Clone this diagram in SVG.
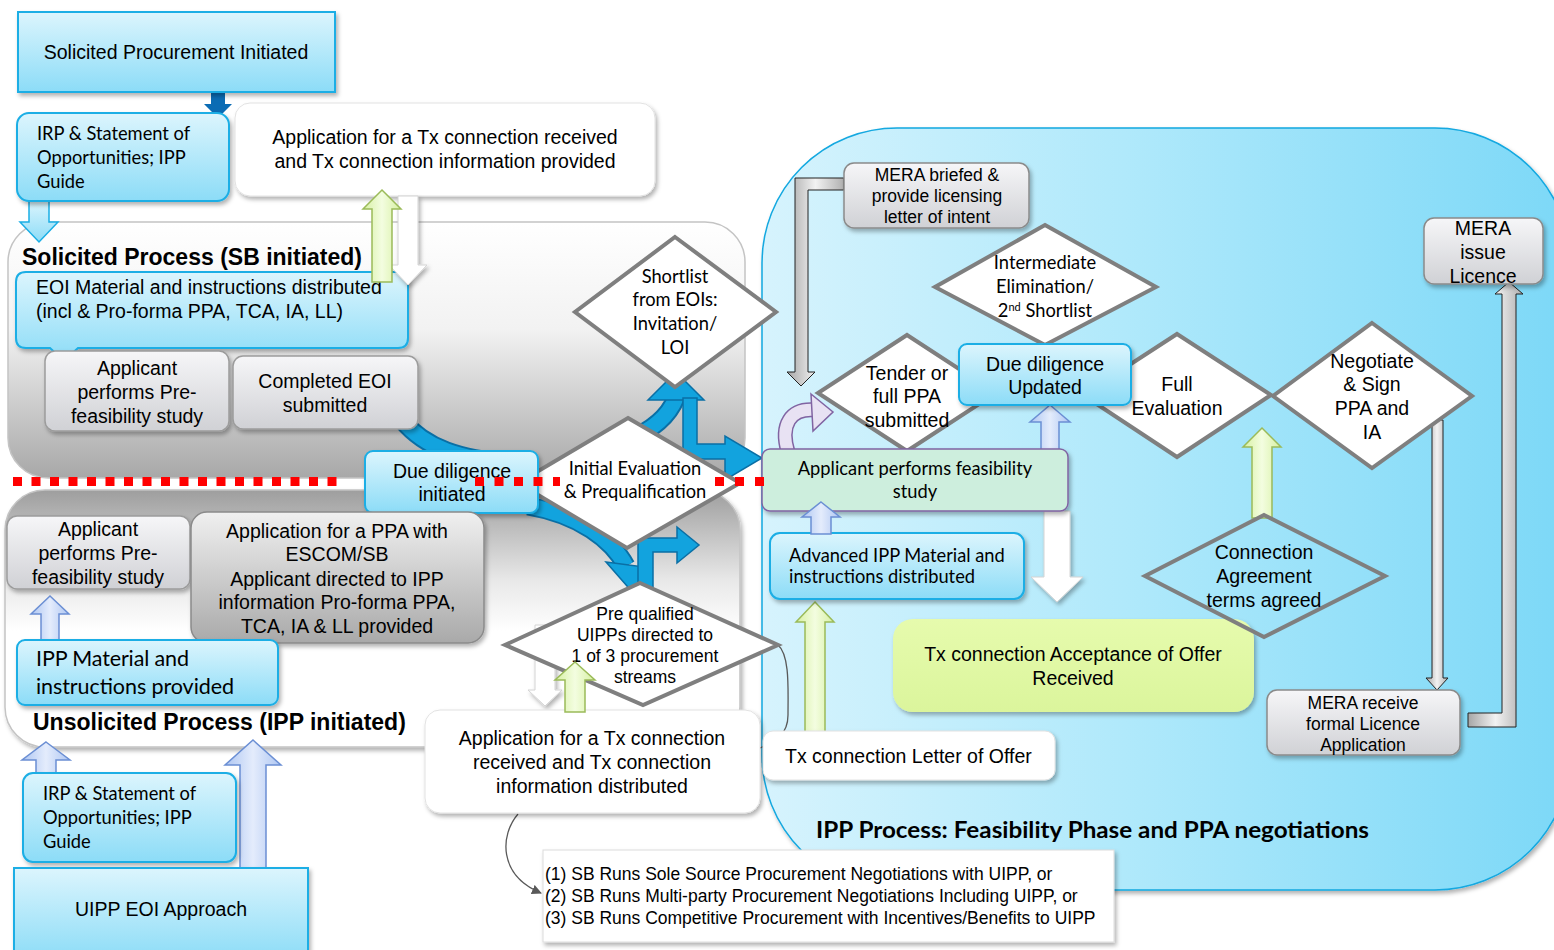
<svg xmlns="http://www.w3.org/2000/svg" width="1554" height="950" viewBox="0 0 1554 950">
<defs>
<linearGradient id="gBlue" x1="0" y1="0" x2="0" y2="1"><stop offset="0" stop-color="#dcf5fd"/><stop offset="1" stop-color="#8cdcf7"/></linearGradient>
<linearGradient id="gGray" x1="0" y1="0" x2="0" y2="1"><stop offset="0" stop-color="#f6f6f8"/><stop offset="1" stop-color="#d0d1d5"/></linearGradient>
<linearGradient id="gGrayD" x1="0" y1="0" x2="0" y2="1"><stop offset="0" stop-color="#f0f0f0"/><stop offset="1" stop-color="#a9a9a9"/></linearGradient>
<linearGradient id="gIPP" x1="0" y1="0" x2="1" y2="0"><stop offset="0" stop-color="#d6f3fd"/><stop offset="0.45" stop-color="#b0e9fb"/><stop offset="1" stop-color="#7cd8f7"/></linearGradient>
<linearGradient id="gSol" x1="0" y1="0" x2="0" y2="1"><stop offset="0" stop-color="#ffffff"/><stop offset="0.42" stop-color="#f2f2f2"/><stop offset="1" stop-color="#a8a8a8"/></linearGradient>
<linearGradient id="gUns" x1="0" y1="0" x2="0" y2="1"><stop offset="0" stop-color="#9e9e9e"/><stop offset="0.35" stop-color="#e8e8e8"/><stop offset="0.55" stop-color="#ffffff"/><stop offset="1" stop-color="#ffffff"/></linearGradient>
<linearGradient id="gGreen" x1="0" y1="0" x2="1" y2="0"><stop offset="0" stop-color="#d6f0a2"/><stop offset="0.5" stop-color="#f3fde0"/><stop offset="1" stop-color="#d6f0a2"/></linearGradient>
<linearGradient id="gPeri" x1="0" y1="0" x2="1" y2="0"><stop offset="0" stop-color="#aec6f2"/><stop offset="0.5" stop-color="#e4ecfc"/><stop offset="1" stop-color="#aec6f2"/></linearGradient>
<linearGradient id="gSteel" x1="0" y1="0" x2="1" y2="0"><stop offset="0" stop-color="#a6a6a6"/><stop offset="0.5" stop-color="#f2f2f2"/><stop offset="1" stop-color="#b0b0b0"/></linearGradient>
<linearGradient id="gLime" x1="0" y1="0" x2="0" y2="1"><stop offset="0" stop-color="#e6fbad"/><stop offset="1" stop-color="#dbf59c"/></linearGradient>
<filter id="sh" x="-10%" y="-10%" width="130%" height="140%"><feDropShadow dx="2" dy="3" stdDeviation="2" flood-color="#000" flood-opacity="0.3"/></filter>
<marker id="ah" markerWidth="10" markerHeight="10" refX="9" refY="5" orient="auto" markerUnits="userSpaceOnUse"><path d="M0,0 L10,5 L0,10 Z" fill="#595959"/></marker>
<style>
.bb{fill:url(#gBlue);stroke:#1aaee5;stroke-width:2}
.bg{fill:url(#gGray);stroke:#9c9c9c;stroke-width:1.5}
.bgd{fill:url(#gGrayD);stroke:#8a8a8a;stroke-width:1.5}
.bw{fill:#fff;stroke:#e2e2e2;stroke-width:1}
.dia{fill:#fff;stroke:#7f7f7f;stroke-width:4}
.a{font-family:"Liberation Sans",Arial,sans-serif;font-size:19.5px;fill:#000}
.s{font-size:17.5px}
.m{text-anchor:middle}
.c{font-family:Lato,"Open Sans",sans-serif;font-size:18.3px;fill:#000}
.cb{font-size:21.5px}
.ti{font-family:"Liberation Sans",Arial,sans-serif;font-size:23px;font-weight:bold;fill:#000}
.ag{fill:url(#gGreen);stroke:#9bbb59;stroke-width:1.5}
.ap{fill:url(#gPeri);stroke:#6b8fd4;stroke-width:1.5}
.aw{fill:#fff;stroke:#d4d4d4;stroke-width:1}
.as{fill:url(#gSteel);stroke:#222;stroke-width:1}
.al{fill:url(#gBlue);stroke:#1aaee5;stroke-width:1.5}
.bo{fill:none;stroke:#0a6fa5;stroke-width:19}
.bi{fill:none;stroke:#12a3de;stroke-width:15}
.bh{fill:#12a3de;stroke:#0a6fa5;stroke-width:1.5}
.thin{fill:none;stroke:#595959;stroke-width:1.3}
.red{stroke:#ff0000;stroke-width:9;fill:none}
</style>
</defs>

<g id="regions">
<rect x="762" y="128" width="808" height="762" rx="135" fill="url(#gIPP)" stroke="#12a8e0" stroke-width="1.5" filter="url(#sh)"/>
<rect x="8" y="222" width="737" height="256" rx="40" fill="url(#gSol)" stroke="#c4c4c4" stroke-width="1.5"/>
<rect x="5" y="490" width="735" height="257" rx="40" fill="url(#gUns)" stroke="#c4c4c4" stroke-width="1.5" filter="url(#sh)"/>
<text class="ti" x="22" y="265">Solicited Process (SB initiated)</text>
<text class="ti" x="33" y="730">Unsolicited Process (IPP initiated)</text>
<text x="816" y="838" font-family="Lato,'Open Sans',sans-serif" font-weight="bold" font-size="22" textLength="553" lengthAdjust="spacingAndGlyphs">IPP Process: Feasibility Phase and PPA negotiations</text>
</g>

<g id="connectors">
<polygon class="al" points="29,201 49,201 49,222 58,222 39,242 20,222 29,222"/>
<path class="bo" d="M402,420 C425,448 460,460 515,463"/>
<path class="bi" d="M402,420 C425,448 460,460 515,463"/>
<path class="bo" d="M528,506 C580,515 612,540 626,566"/>
<path class="bi" d="M528,506 C580,515 612,540 626,566"/>
<polygon class="bh" points="606,562 652,568 634,594"/>
<path class="bo" d="M628,440 Q665,425 676,398"/>
<path class="bi" d="M628,440 Q665,425 676,398"/>
<polygon class="bh" points="648,400 704,400 676,372"/>
<polygon class="bh" points="683,398 697,398 697,444 725,444 725,436 762,458 725,480 725,459 683,459"/>
<polygon class="bh" points="638,588 638,538 677,538 677,527 699,545 677,563 677,552 653,552 653,588"/>
<polygon class="ap" points="50,596 69,614 59,614 59,640 41,640 41,614 31,614"/>
<polygon class="ap" points="46,742 70,760 56,760 56,775 36,775 36,760 22,760"/>
<polygon class="ap" points="253,740 281,765 266,765 266,870 240,870 240,765 225,765"/>
<polygon class="aw" filter="url(#sh)" points="535,625 555,625 555,690 562,690 545,706 528,690 535,690"/>
<polygon class="ap" points="1050,405 1070,422 1059,422 1059,450 1041,450 1041,422 1030,422"/>
<polygon class="ag" points="815,602 834,622 825,622 825,733 805,733 805,622 796,622"/>
<polygon class="ag" points="1262,428 1281,447 1272,447 1272,518 1252,518 1252,447 1243,447"/>
<polygon class="aw" filter="url(#sh)" points="1044,511 1070,511 1070,577 1083,577 1057,602 1031,577 1044,577"/>
<polygon class="as" points="1509,282 1523,294 1516,294 1516,727 1468,727 1468,713 1502,713 1502,294 1495,294"/>
<polygon class="as" points="1432,420 1443,420 1443,678 1448,678 1437,690 1426,678 1432,678"/>
<polygon class="as" points="844,178 795,178 795,372 787,372 801,386 815,372 808,372 808,190 844,190"/>
<polygon points="211,92 225,92 225,104 232,104 218,118 204,104 211,104" fill="#0b6cb4"/>
<path d="M788,452 C780,425 790,408 815,410" fill="none" stroke="#8064a2" stroke-width="15"/>
<path d="M788,452 C780,425 790,408 815,410" fill="none" stroke="#e8e2f3" stroke-width="12"/>
<polygon points="811,394 833,412 813,431" fill="#e8e2f3" stroke="#8064a2" stroke-width="1.5"/>
<path class="thin" d="M518,814 C500,835 498,875 541,893" marker-end="url(#ah)"/>
<path class="thin" d="M778,645 C790,655 788,690 788,715 C788,735 775,742 760,748"/>
</g>

<g id="n-solicited-initiated"><rect class="bb" x="18" y="12" width="317" height="80" filter="url(#sh)"/><text class="a m" x="176" y="59">Solicited Procurement Initiated</text></g>
<g id="n-irp-top"><rect class="bb" x="17" y="113" width="212" height="88" rx="12" filter="url(#sh)"/><text class="c" x="37" y="140">IRP &amp; Statement of</text><text class="c" x="37" y="164">Opportunities; IPP</text><text class="c" x="37" y="188">Guide</text></g>
<g id="n-tx-top"><rect class="bw" x="235" y="103" width="420" height="93" rx="15" filter="url(#sh)"/><text class="a m" x="445" y="144">Application for a Tx connection received</text><text class="a m" x="445" y="168">and Tx connection information provided</text></g>
<g id="n-eoi"><path class="bb" d="M26,272 H398 Q408,272 408,282 V338 Q408,348 398,348 H78 L64,361 L50,348 H26 Q16,348 16,338 V282 Q16,272 26,272 Z" filter="url(#sh)"/><text class="a" x="36" y="294">EOI Material and instructions distributed</text><text class="a" x="36" y="318">(incl &amp; Pro-forma PPA, TCA, IA, LL)</text></g>
<g id="n-prefeas-top"><rect class="bg" x="45" y="351" width="184" height="80" rx="10" filter="url(#sh)"/><text class="a m" x="137" y="375">Applicant</text><text class="a m" x="137" y="399">performs Pre-</text><text class="a m" x="137" y="423">feasibility study</text></g>
<g id="n-eoi-submitted"><rect class="bg" x="233" y="356" width="185" height="73" rx="10" filter="url(#sh)"/><text class="a m" x="325" y="388">Completed EOI</text><text class="a m" x="325" y="412">submitted</text></g>
<g id="n-shortlist"><polygon class="dia" points="675,237 776,312 675,387 575,312"/><text class="c m" x="675" y="283">Shortlist</text><text class="c m" x="675" y="306">from EOIs:</text><text class="c m" x="675" y="330">Invitation/</text><text class="c m" x="675" y="354">LOI</text></g>
<g id="n-initial-eval"><polygon class="dia" points="628,418 740,483 627,548 518,483"/><text class="c m" x="635" y="475">Initial Evaluation</text><text class="c m" x="635" y="498">&amp; Prequalification</text></g>
<g id="n-dd-initiated"><rect class="bb" x="365" y="451" width="173" height="62" rx="8" filter="url(#sh)"/><text class="a m" x="452" y="478">Due diligence</text><text class="a m" x="452" y="501">initiated</text></g>
<g id="n-prefeas-bottom"><rect class="bg" x="7" y="516" width="183" height="73" rx="10" filter="url(#sh)"/><text class="a m" x="98" y="536">Applicant</text><text class="a m" x="98" y="560">performs Pre-</text><text class="a m" x="98" y="584">feasibility study</text></g>
<g id="n-ppa-app"><rect class="bgd" x="191" y="512" width="293" height="131" rx="16" filter="url(#sh)"/><text class="a m" x="337" y="538">Application for a PPA with</text><text class="a m" x="337" y="561">ESCOM/SB</text><text class="a m" x="337" y="586">Applicant directed to IPP</text><text class="a m" x="337" y="609">information Pro-forma PPA,</text><text class="a m" x="337" y="633">TCA, IA &amp; LL provided</text></g>
<g id="n-ipp-material"><rect class="bb" x="17" y="640" width="261" height="65" rx="8" filter="url(#sh)"/><text class="c cb" x="36" y="666" textLength="153">IPP Material and</text><text class="c cb" x="36" y="694" textLength="198">instructions provided</text></g>
<g id="n-irp-bottom"><rect class="bb" x="23" y="773" width="213" height="89" rx="10" filter="url(#sh)"/><text class="c" x="43" y="800">IRP &amp; Statement of</text><text class="c" x="43" y="824">Opportunities; IPP</text><text class="c" x="43" y="848">Guide</text></g>
<g id="n-uipp-eoi"><rect class="bb" x="14" y="868" width="294" height="92" filter="url(#sh)"/><text class="a m" x="161" y="916">UIPP EOI Approach</text></g>
<g id="n-prequalified"><polygon class="dia" points="640,583 778,645 643,705 505,645"/><text class="a s m" x="645" y="620">Pre qualified</text><text class="a s m" x="645" y="641">UIPPs directed to</text><text class="a s m" x="645" y="662">1 of 3 procurement</text><text class="a s m" x="645" y="683">streams</text></g>
<g id="n-tx-bottom"><rect class="bw" x="425" y="710" width="335" height="103" rx="15" filter="url(#sh)"/><text class="a m" x="592" y="745">Application for a Tx connection</text><text class="a m" x="592" y="769">received and Tx connection</text><text class="a m" x="592" y="793">information distributed</text></g>
<g id="n-streams"><rect x="543" y="850" width="571" height="92" fill="#fff" stroke="#dcdcdc" filter="url(#sh)"/><text class="a s" x="545" y="880">(1) SB Runs Sole Source Procurement Negotiations with UIPP, or</text><text class="a s" x="545" y="902">(2) SB Runs Multi-party Procurement Negotiations Including UIPP, or</text><text class="a s" x="545" y="924">(3) SB Runs Competitive Procurement with Incentives/Benefits to UIPP</text></g>

<g id="n-mera-briefed"><rect class="bgd" x="844" y="163" width="185" height="65" rx="10" filter="url(#sh)" style="fill:url(#gGray)"/><text class="a s m" x="937" y="181">MERA briefed &amp;</text><text class="a s m" x="937" y="202">provide licensing</text><text class="a s m" x="937" y="223">letter of intent</text></g>
<g id="n-intermediate"><polygon class="dia" points="1045,225 1156,287 1045,345 935,287"/><text class="c m" x="1045" y="269">Intermediate</text><text class="c m" x="1045" y="293">Elimination/</text><text class="c m" x="1045" y="317">2<tspan dy="-6" style="font-size:11px">nd</tspan><tspan dy="6"> Shortlist</tspan></text></g>
<g id="n-tender"><polygon class="dia" points="907,335 996,393 907,451 818,393"/><text class="a m" x="907" y="380">Tender or</text><text class="a m" x="907" y="403">full PPA</text><text class="a m" x="907" y="427">submitted</text></g>
<g id="n-full-eval"><polygon class="dia" points="1177,334 1271,395 1177,457 1083,395"/><text class="a m" x="1177" y="391">Full</text><text class="a m" x="1177" y="415">Evaluation</text></g>
<g id="n-dd-updated"><rect class="bb" x="959" y="344" width="172" height="61" rx="8" filter="url(#sh)"/><text class="a m" x="1045" y="371">Due diligence</text><text class="a m" x="1045" y="394">Updated</text></g>
<g id="n-negotiate"><polygon class="dia" points="1372,323 1472,396 1372,468 1273,396"/><text class="a m" x="1372" y="368">Negotiate</text><text class="a m" x="1372" y="391">&amp; Sign</text><text class="a m" x="1372" y="415">PPA and</text><text class="a m" x="1372" y="439">IA</text></g>
<g id="n-mera-issue"><rect class="bgd" x="1424" y="218" width="119" height="66" rx="10" filter="url(#sh)" style="fill:url(#gGray)"/><text class="a m" x="1483" y="235">MERA</text><text class="a m" x="1483" y="259">issue</text><text class="a m" x="1483" y="283">Licence</text></g>
<g id="n-feasibility"><rect x="762" y="449" width="306" height="62" rx="8" fill="#cdeedd" stroke="#8064a2" stroke-width="1.5" filter="url(#sh)"/><text class="c m" x="915" y="475">Applicant performs feasibility</text><text class="c m" x="915" y="498">study</text></g>
<g id="n-advanced"><rect class="bb" x="770" y="533" width="254" height="66" rx="10" filter="url(#sh)"/><text class="c" x="789" y="562">Advanced IPP Material and</text><text class="c" x="789" y="583">instructions  distributed</text></g>
<g id="n-acceptance"><rect x="893" y="619" width="361" height="93" rx="20" fill="url(#gLime)" filter="url(#sh)"/><text class="a m" x="1073" y="661">Tx connection Acceptance of Offer</text><text class="a m" x="1073" y="685">Received</text></g>
<g id="n-connection"><polygon points="1264,515 1385,576 1264,637 1145,576" fill="none" stroke="#7f7f7f" stroke-width="4"/><text class="a m" x="1264" y="559">Connection</text><text class="a m" x="1264" y="583">Agreement</text><text class="a m" x="1264" y="607">terms agreed</text></g>
<g id="n-mera-receive"><rect class="bgd" x="1267" y="690" width="193" height="65" rx="10" filter="url(#sh)" style="fill:url(#gGray)"/><text class="a s m" x="1363" y="709">MERA receive</text><text class="a s m" x="1363" y="730">formal Licence</text><text class="a s m" x="1363" y="751">Application</text></g>
<g id="n-letter"><rect class="bw" x="763" y="731" width="292" height="49" rx="10" filter="url(#sh)"/><text class="a" x="785" y="763">Tx connection Letter of Offer</text></g>

<g id="connectors-front">
<polygon class="aw" filter="url(#sh)" points="398,196 418,196 418,265 427,265 408,285 389,265 398,265"/>
<polygon class="ag" points="382,190 401,209 392,209 392,282 372,282 372,209 363,209"/>
<polygon class="ag" points="575,662 595,680 585,680 585,712 565,712 565,680 555,680"/>
<polygon class="ap" points="821,502 840,517 831,517 831,534 811,534 811,517 802,517"/>
</g>

<g id="divider">
<line class="red" x1="13" y1="481.5" x2="345" y2="481.5" stroke-dasharray="9 9.5"/>
<line class="red" x1="475" y1="481.5" x2="560" y2="481.5" stroke-dasharray="9 10.5"/>
<line class="red" x1="715" y1="481.5" x2="764" y2="481.5" stroke-dasharray="9 11"/>
</g>
</svg>
